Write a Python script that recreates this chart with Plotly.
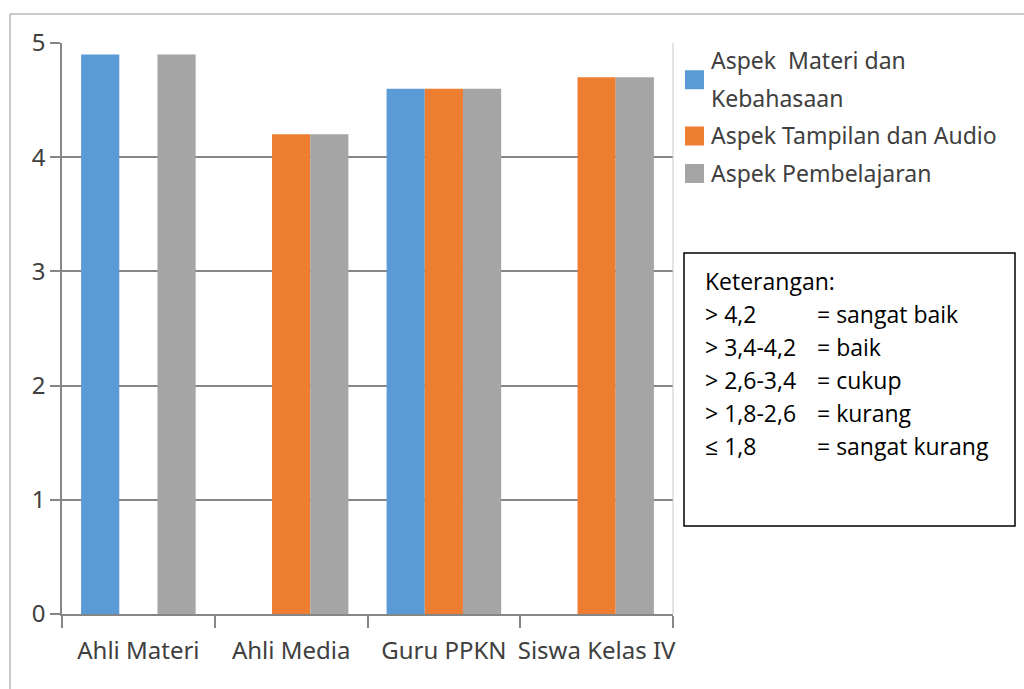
import plotly.graph_objects as go

categories = ["Ahli Materi", "Ahli Media", "Guru PPKN", "Siswa Kelas IV"]
series_names = ["Aspek  Materi dan Kebahasaan", "Aspek Tampilan dan Audio", "Aspek Pembelajaran"]
legend_lines = [["Aspek  Materi dan", "Kebahasaan"], ["Aspek Tampilan dan Audio"], ["Aspek Pembelajaran"]]
materi = [4.9, None, 4.6, None]
tampilan = [None, 4.2, 4.6, 4.7]
pembelajaran = [4.9, 4.2, 4.6, 4.7]
colors = ["#5B9BD5", "#ED7D31", "#A5A5A5"]
y_ticks = [0, 1, 2, 3, 4, 5]
keterangan = [
    ("Keterangan:", ""),
    ("> 4,2", "= sangat baik"),
    ("> 3,4-4,2", "= baik"),
    ("> 2,6-3,4", "= cukup"),
    ("> 1,8-2,6", "= kurang"),
    ("\u2264 1,8", "= sangat kurang"),
]

W, H = 1024, 689
L, R, T, B = 62, 673, 43, 614


def px(x):
    return (x - L) / (R - L)


def py(y):
    return (B - y) / (B - T)


fig = go.Figure()
for name, vals, c in zip(series_names, [materi, tampilan, pembelajaran], colors):
    fig.add_trace(go.Bar(x=categories, y=vals, name=name, showlegend=False,
                         marker=dict(color=c, line=dict(width=0))))

tick_font = dict(family="Noto Sans", size=24, color="#404040")
fig.update_layout(
    width=W, height=H,
    margin=dict(l=L, r=W - R, t=T, b=H - B, autoexpand=False),
    paper_bgcolor="white", plot_bgcolor="white",
    barmode="group", bargap=0.25, bargroupgap=0,
    showlegend=False,
    xaxis=dict(showline=True, linecolor="#868686", linewidth=1.5, automargin=False, tickangle=0,
               ticks="outside", tickson="boundaries", ticklen=12, tickcolor="#868686", tickwidth=1.5,
               ticklabelstandoff=14,
               tickfont=tick_font, showgrid=False, fixedrange=True),
    yaxis=dict(range=[0, 5], tickvals=y_ticks, showline=True, linecolor="#868686", linewidth=1.5,
               automargin=False,
               ticks="outside", ticklen=10, tickcolor="#868686", tickwidth=1.5, tickfont=tick_font,
               showgrid=True, gridcolor="#868686", gridwidth=1.5, zeroline=False, fixedrange=True),
)

# outer frame (left and top edges) and plot right border
fig.add_shape(type="line", xref="paper", yref="paper", x0=px(10), x1=px(10), y0=py(689), y1=py(14),
              line=dict(color="#B8B8B8", width=1.5))
fig.add_shape(type="line", xref="paper", yref="paper", x0=px(10), x1=px(1024), y0=py(14), y1=py(14),
              line=dict(color="#B8B8B8", width=1.5))
fig.add_shape(type="line", xref="paper", yref="paper", x0=1, x1=1, y0=0, y1=1,
              line=dict(color="#C8C8C8", width=1))

# legend (drawn manually to match the reference spacing)
leg_font = dict(family="Noto Sans", size=23, color="#404040")
line_y = 60
sq = 19
for lines, c in zip(legend_lines, colors):
    ys = [line_y + 37.5 * k for k in range(len(lines))]
    mid = sum(ys) / len(ys) + 1
    fig.add_shape(type="rect", xref="paper", yref="paper",
                  x0=px(685), x1=px(685 + sq), y0=py(mid + sq / 2), y1=py(mid - sq / 2),
                  line=dict(width=0), fillcolor=c)
    for t, yy in zip(lines, ys):
        fig.add_annotation(x=px(709), y=py(yy), xref="paper", yref="paper", text=t, showarrow=False,
                           xanchor="left", yanchor="middle", font=leg_font)
    line_y = ys[-1] + 37.5

# Keterangan box
fig.add_shape(type="rect", xref="paper", yref="paper", x0=px(684), x1=px(1015), y0=py(526), y1=py(253),
              line=dict(color="black", width=1.5), fillcolor="white")
box_font = dict(family="Open Sans", size=23, color="black")
for i, (a, b) in enumerate(keterangan):
    yy = py(281 + i * 33)
    fig.add_annotation(x=px(703), y=yy, xref="paper", yref="paper", text=a, showarrow=False,
                       xanchor="left", yanchor="middle", font=box_font)
    if b:
        fig.add_annotation(x=px(815), y=yy, xref="paper", yref="paper", text=b, showarrow=False,
                           xanchor="left", yanchor="middle", font=box_font)

fig.write_html("out.html")
